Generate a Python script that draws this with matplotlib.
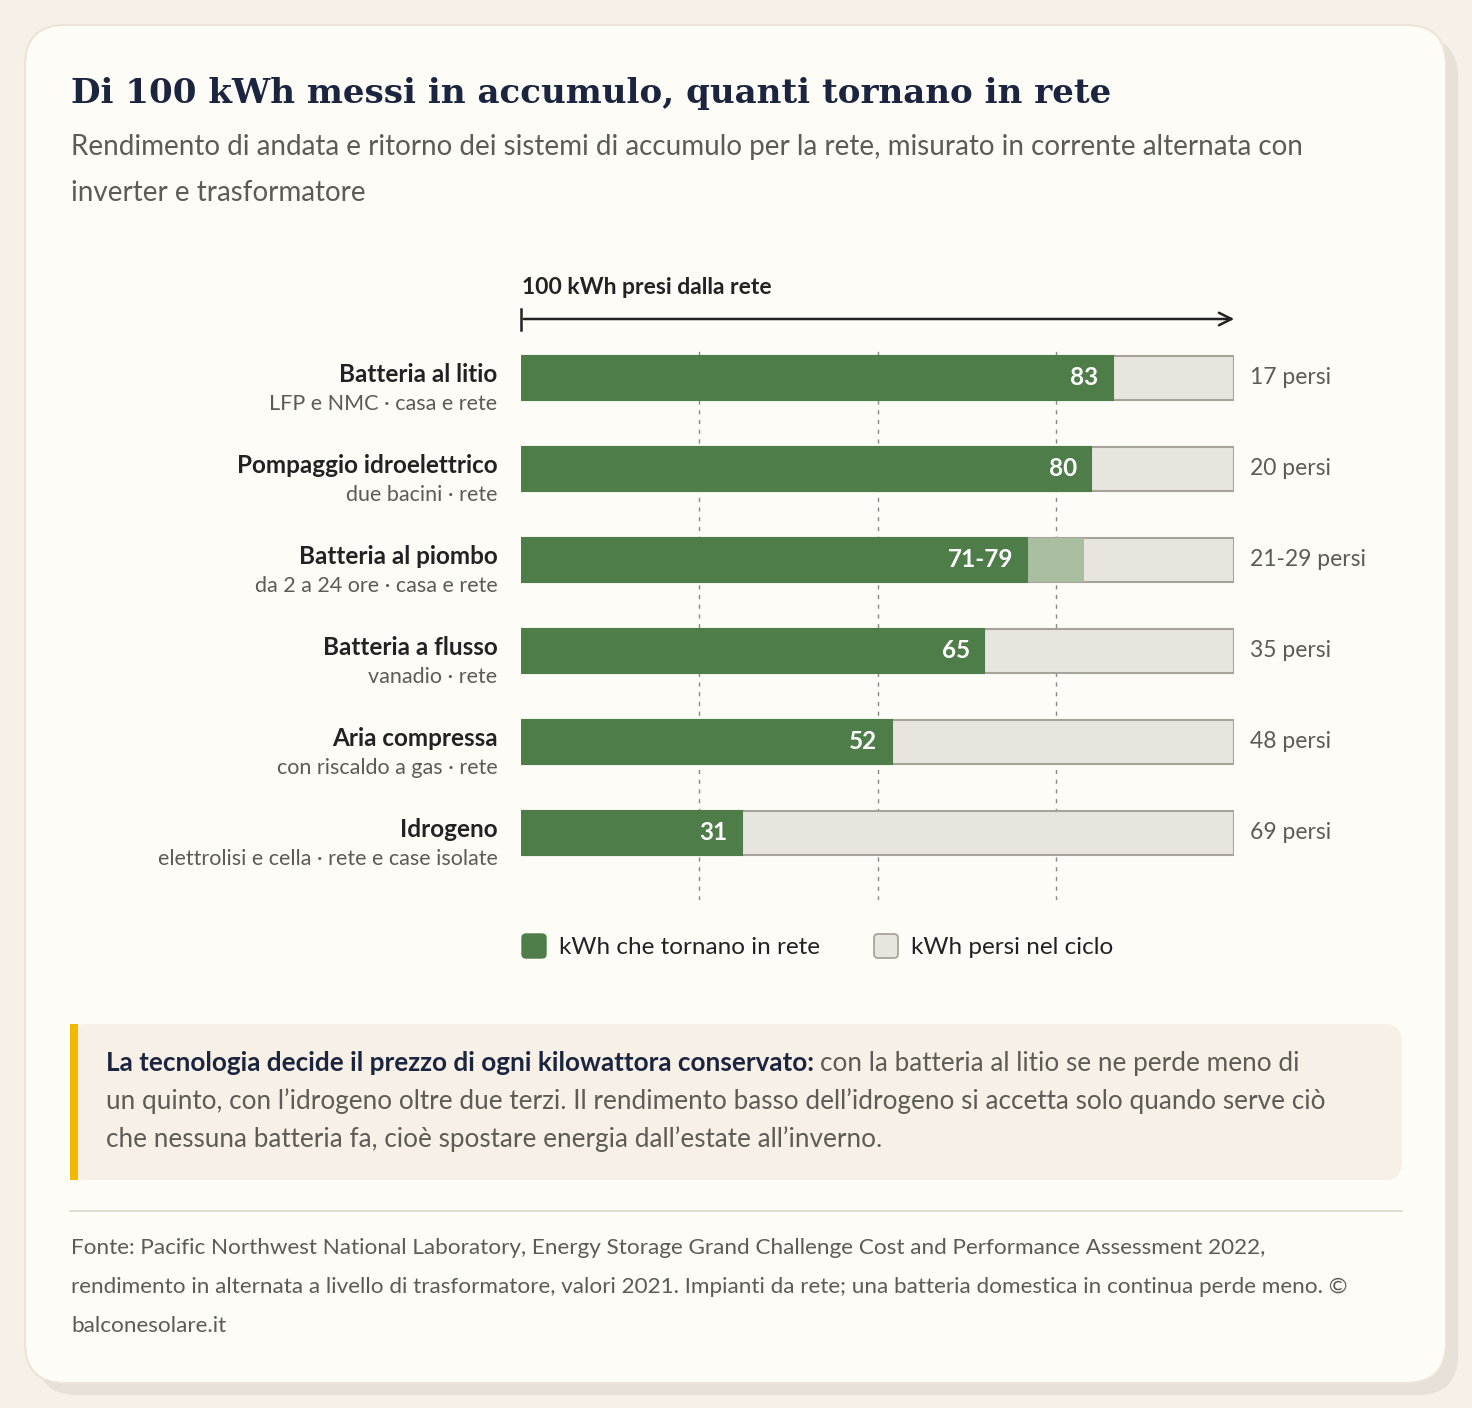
import matplotlib.pyplot as plt
from matplotlib.patches import FancyBboxPatch, Rectangle

W, H = 1472, 1408

techs = ["Batteria al litio", "Pompaggio idroelettrico", "Batteria al piombo",
         "Batteria a flusso", "Aria compressa", "Idrogeno"]
subs = ["LFP e NMC · casa e rete", "due bacini · rete", "da 2 a 24 ore · casa e rete",
        "vanadio · rete", "con riscaldo a gas · rete", "elettrolisi e cella · rete e case isolate"]
low = [83, 80, 71, 65, 52, 31]
high = [83, 80, 79, 65, 52, 31]
value_labels = ["83", "80", "71-79", "65", "52", "31"]
lost_labels = ["17 persi", "20 persi", "21-29 persi", "35 persi", "48 persi", "69 persi"]

GREEN = "#4e7d4a"
LIGHT = "#e8e5de"
RANGE = "#a9bea0"
NAVY = "#1b2540"
GREY = "#5e5a55"
DARK = "#222222"

plt.rcParams['font.family'] = ['Lato', 'DejaVu Sans']

fig = plt.figure(figsize=(W / 100, H / 100), dpi=100)
fig.patch.set_facecolor("#f7f0e6")


def fx(x):
    return x / W


def fy(y):
    return 1 - y / H


bg = fig.add_axes([0, 0, 1, 1])
bg.set_xlim(0, W)
bg.set_ylim(H, 0)
bg.axis("off")
bg.add_patch(FancyBboxPatch((37, 37), 1421, 1358, boxstyle="round,pad=0,rounding_size=40",
                            fc="#e6e0d6", ec="none"))
bg.add_patch(FancyBboxPatch((25, 25), 1421, 1358, boxstyle="round,pad=0,rounding_size=40",
                            fc="#fdfcf7", ec="#ece4d6", lw=1.5))
# callout
bg.add_patch(FancyBboxPatch((70, 1024), 1332, 156, boxstyle="round,pad=0,rounding_size=18",
                            fc="#f7f0e6", ec="none"))
bg.add_patch(Rectangle((70, 1024), 8, 156, fc="#f5b800", ec="none"))
bg.plot([70, 1402], [1211, 1211], color="#ddd6ca", lw=1.2)
# arrow
bg.annotate("", xy=(1237, 319), xytext=(521, 319),
            arrowprops=dict(arrowstyle="->,head_length=0.9,head_width=0.45", color=DARK, lw=1.8))
bg.plot([521, 521], [309, 330], color=DARK, lw=1.8)

fig.text(fx(71), fy(93), "Di 100 kWh messi in accumulo, quanti tornano in rete",
         family=["DejaVu Serif"], weight="bold", size=24.6, color=NAVY, va="center")
fig.text(fx(71), fy(147), "Rendimento di andata e ritorno dei sistemi di accumulo per la rete, misurato in corrente alternata con",
         size=20, color=GREY, va="center")
fig.text(fx(71), fy(193), "inverter e trasformatore", size=20, color=GREY, va="center")
fig.text(fx(522), fy(287), "100 kWh presi dalla rete", size=16.5, weight="bold", color=DARK, va="center")

ax = fig.add_axes([fx(521), fy(900), fx(1234 - 521), (900 - 350) / H])
ax.set_xlim(0, 100)
ax.set_ylim(5 + (900 - 833) / 91, -28 / 91)
ax.axis("off")
ys = list(range(len(techs)))
for g in (25, 50, 75):
    ax.axvline(g, color="#888888", lw=1, ls=(0, (3, 4)), zorder=0)
bh = 44 / 91
ax.barh(ys, [100] * 6, height=bh, color=LIGHT, edgecolor="#a8a39a", lw=1.5, zorder=1)
ax.barh(ys, [h - l for l, h in zip(low, high)], left=low, height=bh, color=RANGE, zorder=2)
ax.barh(ys, low, height=bh, color=GREEN, edgecolor=GREEN, lw=1.5, zorder=3)
for i in ys:
    ax.text(low[i] - 2, i, value_labels[i], color="white", weight="bold", size=17.5,
            ha="right", va="center", zorder=4)
    ax.text(102.2, i, lost_labels[i], color=GREY, size=16.5, ha="left", va="center")
    ax.text(-3.3, i - 0.04, techs[i], color=DARK, weight="bold", size=17.5, ha="right", va="center")
    ax.text(-3.3, i + 0.29, subs[i], color=GREY, size=15.5, ha="right", va="center")

# legend
bg.add_patch(FancyBboxPatch((522, 934), 24, 24, boxstyle="round,pad=0,rounding_size=4", fc=GREEN, ec=GREEN))
bg.add_patch(FancyBboxPatch((874, 934), 24, 24, boxstyle="round,pad=0,rounding_size=4", fc=LIGHT, ec="#a8a39a", lw=1.3))
fig.text(fx(559), fy(947), "kWh che tornano in rete", size=17.5, color=DARK, va="center")
fig.text(fx(911), fy(947), "kWh persi nel ciclo", size=17.5, color=DARK, va="center")

t1 = fig.text(fx(106), fy(1063), "La tecnologia decide il prezzo di ogni kilowattora conservato:",
              size=18.8, weight="bold", color=NAVY, va="center")
fig.canvas.draw()
bb = t1.get_window_extent()
fig.text(bb.x1 / W + 0.004, fy(1063), "con la batteria al litio se ne perde meno di",
         size=18.8, color=GREY, va="center")
fig.text(fx(106), fy(1101), "un quinto, con l’idrogeno oltre due terzi. Il rendimento basso dell’idrogeno si accetta solo quando serve ciò",
         size=18.8, color=GREY, va="center")
fig.text(fx(106), fy(1139), "che nessuna batteria fa, cioè spostare energia dall’estate all’inverno.",
         size=18.8, color=GREY, va="center")

foot = ["Fonte: Pacific Northwest National Laboratory, Energy Storage Grand Challenge Cost and Performance Assessment 2022,",
        "rendimento in alternata a livello di trasformatore, valori 2021. Impianti da rete; una batteria domestica in continua perde meno. ©",
        "balconesolare.it"]
for k, line in enumerate(foot):
    fig.text(fx(71), fy(1248 + 39 * k), line, size=16.2, color=GREY, va="center")

fig.savefig("out.png", dpi=100, facecolor=fig.get_facecolor())
